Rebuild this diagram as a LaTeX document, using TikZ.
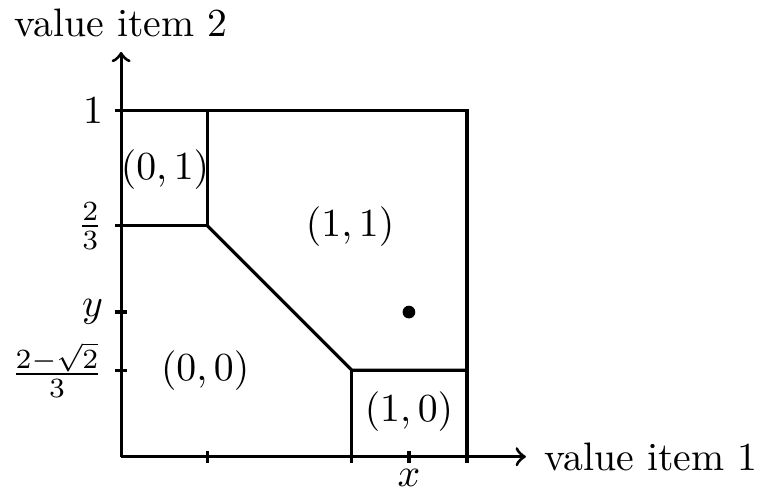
\documentclass[tikz,border=0pt]{standalone}
\usepackage{amsmath}
\usetikzlibrary{positioning}

\begin{document}
\begin{tikzpicture}[
  x=3.06cm, y=3.06cm,
  axis/.style={->, thick},
  border/.style={thick},
  tick/.style={thick},
  region/.style={inner sep=0pt},
]
\useasboundingbox (-0.350,-0.118) rectangle (1.838,1.320);

% ---- axes --------------------------------------------------------------
\coordinate (o) at (0,0);
\coordinate (xend) at (1.17,0);
\coordinate (yend) at (0,1.17);
\draw[axis] (o) -- (xend) node[right=1pt] (xlab) {value item 1};
\draw[axis] (o) -- (yend) node[above] (ylab) {value item 2};

% ---- ticks and their labels --------------------------------------------
\foreach \t in {0.25, 0.667, 0.832, 1}
  \draw[tick] (\t,-1.5pt) -- (\t,1.5pt);
\foreach \t in {0.25, 0.418, 0.667, 1}
  \draw[tick] (-1.5pt,\t) -- (1.5pt,\t);
\node[below=1pt, inner sep=2pt] (xval) at (0.832,0) {$x$};
\node[left=1pt] (one) at (0,1) {$1$};
\node[left=1pt] (twothirds) at (0,0.667) {$\frac{2}{3}$};
\node[left=1pt] (yval) at (0,0.418) {$y$};
\node[left=1pt] (low) at (0,0.25) {$\frac{2-\sqrt{2}}{3}$};

% ---- allocation regions ------------------------------------------------
\draw[border] (0,1) -- (1,1) -- (1,0);
\draw[border] (0.25,1) -- (0.25,0.667) -- (0,0.667);
\draw[border] (0.25,0.667) -- (0.667,0.25) -- (1,0.25);
\draw[border] (0.667,0.25) -- (0.667,0);

\node[region] (r01) at (0.127,0.830) {$(0,1)$};
\node[region] (r11) at (0.662,0.666) {$(1,1)$};
\node[region] (r00) at (0.243,0.250) {$(0,0)$};
\node[region] (r10) at (0.832,0.130) {$(1,0)$};

% value point
\fill (0.832,0.418) circle (1.6pt);

\end{tikzpicture}
\end{document}
